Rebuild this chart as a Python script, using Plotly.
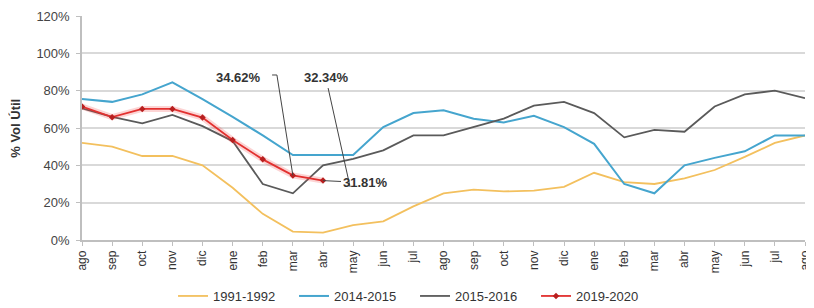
import plotly.graph_objects as go

months = ["ago", "sep", "oct", "nov", "dic", "ene", "feb", "mar", "abr", "may", "jun", "jul",
          "ago", "sep", "oct", "nov", "dic", "ene", "feb", "mar", "abr", "may", "jun", "jul", "ago"]
y_ticks = [0, 20, 40, 60, 80, 100, 120]

s_1991 = [52, 50, 45, 45, 40, 28, 14, 4.5, 4, 8, 10, 18, 25, 27, 26, 26.5, 28.5,
          36, 31, 30, 33, 37.5, 44.5, 52, 56]
s_2014 = [75.5, 74, 78, 84.5, 75.5, 66, 56, 45.5, 45.5, 45.5, 60.5, 68, 69.5, 65, 63,
          66.5, 60.5, 51.5, 30, 25, 40, 44, 47.5, 56, 56]
s_2015 = [70.5, 66, 62.5, 67, 61, 53, 30, 25, 40, 43.5, 48, 56, 56, 60.5, 65, 72, 74,
          68, 55, 59, 58, 71.5, 78, 80, 76]
s_2019 = [71.5, 65.8, 70.2, 70.2, 65.6, 53.6, 43.2, 34.62, 31.81]

x_all = list(range(len(months)))

fig = go.Figure()
fig.add_trace(go.Scatter(x=x_all, y=s_1991, mode="lines", name="1991-1992",
                         line=dict(color="#F3C05E", width=1.8)))
fig.add_trace(go.Scatter(x=x_all, y=s_2014, mode="lines", name="2014-2015",
                         line=dict(color="#45A5CE", width=2)))
fig.add_trace(go.Scatter(x=x_all, y=s_2015, mode="lines", name="2015-2016",
                         line=dict(color="#5A5A5A", width=1.8)))
fig.add_trace(go.Scatter(x=x_all[:len(s_2019)], y=s_2019, mode="lines", showlegend=False,
                         hoverinfo="skip", line=dict(color="rgba(240,60,60,0.22)", width=6)))
fig.add_trace(go.Scatter(x=x_all[:len(s_2019)], y=s_2019, mode="lines+markers", name="2019-2020",
                         line=dict(color="#E2302F", width=1.8),
                         marker=dict(size=5, color="#B81F1F", symbol="diamond")))

FF = "Liberation Sans, Arial, sans-serif"
txt = dict(family=FF, size=13, color="#333333")
bold = dict(family=FF, size=13, color="#333333")

annotations = [
    dict(text="<b>34.62%</b>", x=5.21, y=87.3, xref="x", yref="y", showarrow=False,
         font=bold, xanchor="center", yanchor="middle"),
    dict(text="<b>32.34%</b>", x=8.1, y=87.3, xref="x", yref="y", showarrow=False,
         font=bold, xanchor="center", yanchor="middle"),
    dict(text="<b>31.81%</b>", x=8, y=31.81, xref="x", yref="y", ax=42, ay=2,
         showarrow=True, arrowhead=0, arrowwidth=1, arrowcolor="#444444", font=bold,
         standoff=0),
    dict(text="<b>% Vol Útil</b>", x=-0.093, y=0.5, xref="paper", yref="paper",
         showarrow=False, textangle=-90, font=bold, xanchor="center", yanchor="middle"),
]

leader = dict(color="#444444", width=1)
shapes = [
    dict(type="path", xref="x", yref="y", path="M 6.31 88.4 L 6.47 88.4 L 7 34.62", line=leader),
    dict(type="line", xref="x", yref="y", x0=8.17, y0=81.4, x1=8.9, y1=28.4, line=leader),
]

# the page body adds an 8px offset, so the figure is 806x300 with margins reduced by 8
fig.update_layout(
    width=806, height=300,
    margin=dict(l=74, r=9, t=8, b=68, autoexpand=False),
    paper_bgcolor="white", plot_bgcolor="white",
    font=txt,
    annotations=annotations,
    shapes=shapes,
    legend=dict(orientation="h", xref="container", x=0.505, xanchor="center",
                yref="container", y=0.04, yanchor="middle",
                font=dict(family=FF, size=13, color="#333333"),
                entrywidth=76, entrywidthmode="pixels", traceorder="normal"),
    showlegend=True,
)
fig.update_xaxes(range=[0, 24], tickvals=x_all, ticktext=months, tickangle=-90,
                 showgrid=False, showline=True, linecolor="#BFBFBF", linewidth=1.5,
                 ticks="outside", ticklen=4, tickcolor="#BFBFBF", automargin=False,
                 tickfont=dict(family=FF, size=12, color="#333333"),
                 zeroline=False, fixedrange=True)
fig.update_yaxes(range=[0, 120], tickvals=y_ticks, ticktext=[f"{v}%" for v in y_ticks],
                 showgrid=True, gridcolor="#D9D9D9", gridwidth=1.5,
                 showline=True, linecolor="#BFBFBF", linewidth=1.5, automargin=False,
                 ticks="outside", ticklen=4, tickcolor="#BFBFBF", ticklabelstandoff=4,
                 tickfont=dict(family=FF, size=13, color="#444444"),
                 zeroline=False, fixedrange=True)

fig.write_html("out.html")
